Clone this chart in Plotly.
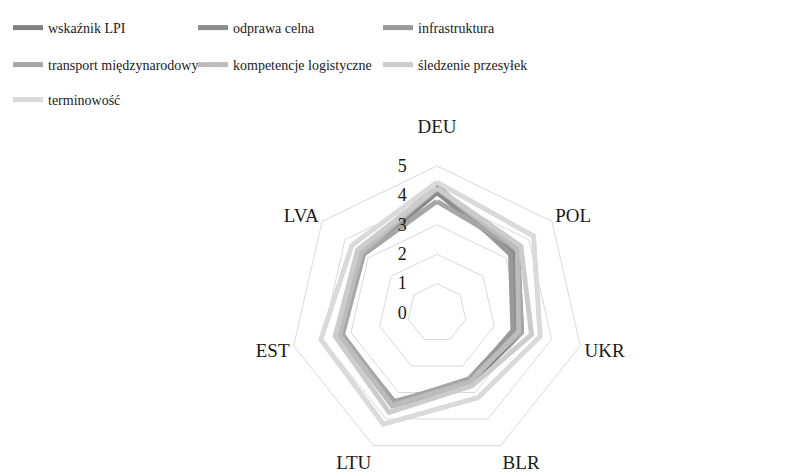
import plotly.graph_objects as go

countries = ["DEU", "POL", "UKR", "BLR", "LTU", "EST", "LVA"]
country_labels = ["DEU<br> ", "POL", "UKR", "BLR", "LTU", "EST", "LVA"]
series_names = ["wskaźnik LPI", "odprawa celna", "infrastruktura",
                "transport międzynarodowy", "kompetencje logistyczne",
                "śledzenie przesyłek", "terminowość"]

lpi        = [4.20, 3.50, 2.95, 2.65, 3.50, 3.40, 3.30]
customs    = [4.10, 3.30, 2.70, 2.50, 3.40, 3.35, 3.20]
infra      = [4.35, 3.20, 2.65, 2.55, 3.35, 3.35, 3.25]
intl       = [3.80, 3.50, 2.95, 2.50, 3.40, 3.30, 3.20]
competence = [4.25, 3.50, 2.85, 2.60, 3.50, 3.40, 3.30]
tracking   = [4.25, 3.65, 3.30, 2.75, 3.75, 3.55, 3.45]
timeliness = [4.45, 4.20, 3.60, 3.20, 4.20, 4.05, 3.70]

series_values = [lpi, customs, infra, intl, competence, tracking, timeliness]
colors = ["#808080", "#8c8c8c", "#999999", "#a6a6a6", "#bcbcbc", "#cccccc", "#dadada"]
legend_ids = ["legend", "legend", "legend", "legend2", "legend2", "legend2", "legend3"]

font_family = "Liberation Serif"

fig = go.Figure()
for name, vals, col, lg in zip(series_names, series_values, colors, legend_ids):
    fig.add_trace(go.Scatterpolar(
        r=vals + vals[:1], theta=countries + countries[:1],
        mode="lines", name=name, line=dict(color=col, width=5),
        legend=lg,
    ))

legend_common = dict(orientation="h", x=0.0, xanchor="left", yanchor="middle",
                     font=dict(family=font_family, size=14, color="#1a1a1a"),
                     entrywidth=140, bgcolor="rgba(0,0,0,0)", itemwidth=30,
                     traceorder="normal")

fig.update_layout(
    width=789, height=476,
    margin=dict(l=0, r=0, t=0, b=0),
    paper_bgcolor="white", plot_bgcolor="white",
    font=dict(family=font_family, size=16, color="#1a1a1a"),
    legend=dict(y=1 - 20 / 476, **legend_common),
    legend2=dict(y=1 - 57 / 476, **legend_common),
    legend3=dict(y=1 - 92 / 476, **legend_common),
    polar=dict(
        domain=dict(x=[0.3574, 0.7300], y=[0.0504, 0.6681]),
        bgcolor="white",
        gridshape="linear",
        radialaxis=dict(range=[0, 5], dtick=1, tick0=0, angle=90, tickangle=90,
                        ticksuffix="\u00a0" * 6,
                        side="counterclockwise", showline=False, ticks="",
                        gridcolor="#d9d9d9", gridwidth=1,
                        tickfont=dict(family=font_family, size=18, color="#1a1a1a")),
        angularaxis=dict(direction="clockwise", rotation=90, showgrid=False,
                         showline=True, linecolor="#d9d9d9", linewidth=1, ticks="",
                         tickmode="array", tickvals=countries, ticktext=country_labels,
                         tickfont=dict(family=font_family, size=19, color="#1a1a1a")),
    ),
)

fig.write_html("out.html")
